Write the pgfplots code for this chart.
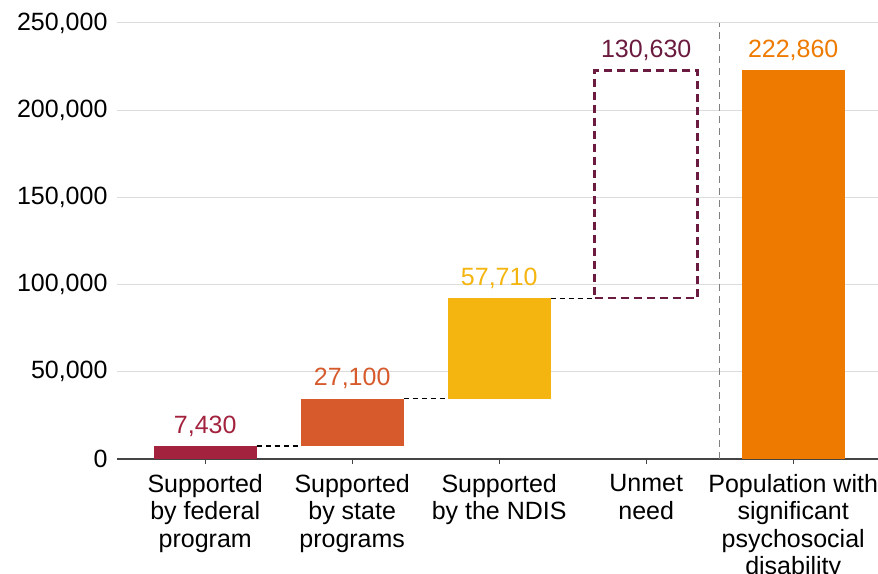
\documentclass[border=0pt]{standalone}
\usepackage{pgfplots}
\pgfplotsset{compat=1.18}
\usepackage{fontspec}
\setmainfont{Liberation Sans}
\definecolor{cFed}{HTML}{A3233F}
\definecolor{cState}{HTML}{D65A2C}
\definecolor{cNDIS}{HTML}{F4B510}
\definecolor{cUnmet}{HTML}{6A1B3F}
\definecolor{cTotal}{HTML}{EE7A00}
\definecolor{cGrid}{HTML}{DCDCDC}
\definecolor{cAxis}{HTML}{444444}
\definecolor{cVline}{HTML}{808080}
\pgfplotsset{
  common/.style={
    at={(0,0)}, anchor=south west,
    scale only axis, width=761bp, height=436bp,
    xmin=-0.6, xmax=4.577, ymin=0, ymax=250000,
    clip=false,
  }
}
\begin{document}
\fontsize{25bp}{27.3bp}\selectfont
\begin{tikzpicture}[font=\fontsize{25bp}{27.3bp}\selectfont]
\begin{axis}[
  common,
  ybar stacked, bar width=0.7,
  ytick={0,50000,100000,150000,200000,250000},
  yticklabels={0,{50,000},{100,000},{150,000},{200,000},{250,000}},
  xtick={0,1,2,3,4},
  xticklabels={{Supported\\by federal\\program},{Supported\\by state\\programs},{Supported\\by the NDIS},{Unmet\\need},{Population with\\significant\\psychosocial\\disability}},
  axis x line*=bottom, axis y line*=left,
  y axis line style={draw=none},
  x axis line style={color=cAxis, line width=1.2bp},
  ymajorgrids, grid style={color=cGrid, line width=1bp},
  tick align=outside, major tick length=5bp,
  xtick style={color=cAxis, line width=1bp},
  ytick style={draw=none},
  scaled y ticks=false,
  xticklabel style={align=center, anchor=north, yshift=-2bp, font=\fontsize{25bp}{27.3bp}\selectfont},
  yticklabel style={anchor=east, xshift=4bp, font=\fontsize{25bp}{27.3bp}\selectfont},
]
% invisible base of the floating bars
\addplot[draw=none, fill=none, forget plot] coordinates {(0,0) (1,7430) (2,34530) (3,0) (4,0)};
\addplot[draw=none, fill=cFed] coordinates {(0,7430) (1,0) (2,0) (3,0) (4,0)};
\addplot[draw=none, fill=cState] coordinates {(0,0) (1,27100) (2,0) (3,0) (4,0)};
\addplot[draw=none, fill=cNDIS] coordinates {(0,0) (1,0) (2,57710) (3,0) (4,0)};
\addplot[draw=none, fill=cTotal] coordinates {(0,0) (1,0) (2,0) (3,0) (4,222860)};
\end{axis}
\begin{axis}[common, hide axis]
\addplot[black, line width=1.2bp, dash pattern=on 5bp off 4bp] coordinates {(0.35,7430) (0.65,7430)};
\addplot[black, line width=1.2bp, dash pattern=on 5bp off 4bp] coordinates {(1.35,34530) (1.65,34530)};
\addplot[black, line width=1.2bp, dash pattern=on 5bp off 4bp] coordinates {(2.35,92240) (2.65,92240)};
\addplot[cUnmet, line width=2.5bp, dash pattern=on 8bp off 5bp] coordinates {(2.65,92240) (3.35,92240) (3.35,222870) (2.65,222870)} -- cycle;
\addplot[cVline, line width=1.5bp, dash pattern=on 7bp off 5bp] coordinates {(3.5,0) (3.5,250000)};
\node[anchor=base, yshift=13bp, text=cFed] at (axis cs:0,7430) {7,430};
\node[anchor=base, yshift=13bp, text=cState] at (axis cs:1,34530) {27,100};
\node[anchor=base, yshift=13bp, text=cNDIS] at (axis cs:2,92240) {57,710};
\node[anchor=base, yshift=13bp, text=cUnmet] at (axis cs:3,222870) {130,630};
\node[anchor=base, yshift=13bp, text=cTotal] at (axis cs:4,222860) {222,860};
\end{axis}
\pgfresetboundingbox
\path[use as bounding box] (-117bp,-115bp) rectangle (761bp,459bp);
\end{tikzpicture}
\end{document}
